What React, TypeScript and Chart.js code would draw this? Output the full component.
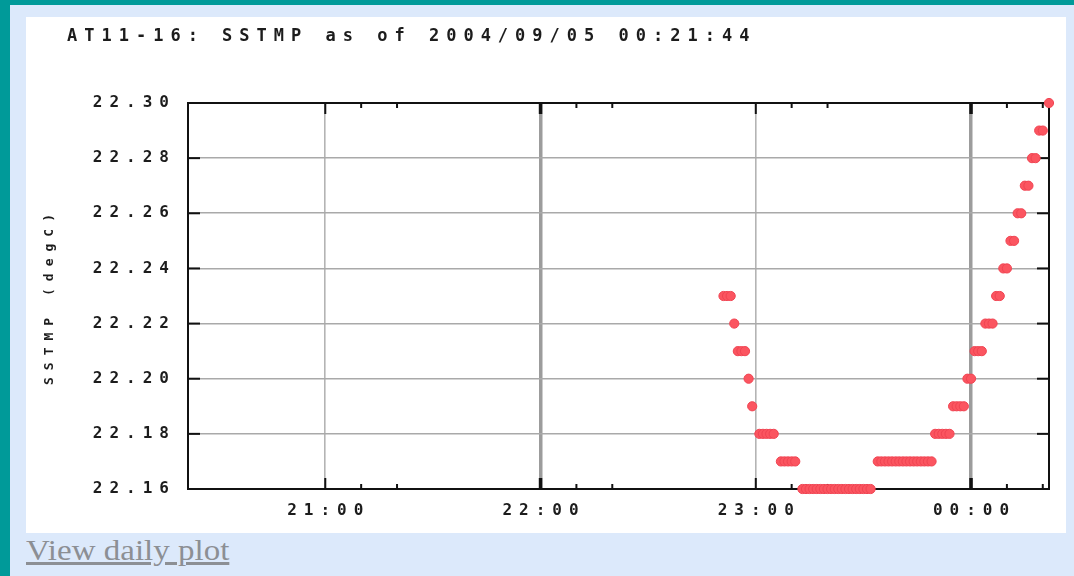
import React, { useEffect, useRef } from 'react';
import { Chart, registerables } from 'chart.js';

Chart.register(...registerables);

const chartTitle = 'AT11-16: SSTMP as of 2004/09/05 00:21:44';
const yAxisTitle = 'SSTMP (degC)';
const linkText = 'View daily plot';

const xStartTime = '20:21:44';
const xEndTime = '00:21:44';
const xTickTimes = ['21:00', '22:00', '23:00', '00:00'];
const xThickTicks = ['22:00', '00:00'];
const xMinorOffsetsMin = [10, 20];
const yTicks = [22.16, 22.18, 22.2, 22.22, 22.24, 22.26, 22.28, 22.3];

const sampleTimes = [
  '22:51', '22:52', '22:53', '22:54', '22:55', '22:56', '22:57', '22:58', '22:59',
  '23:01', '23:02', '23:03', '23:04', '23:05',
  '23:07', '23:08', '23:09', '23:10', '23:11',
  '23:13', '23:14', '23:15', '23:16', '23:17', '23:18', '23:19', '23:20', '23:21', '23:22',
  '23:23', '23:24', '23:25', '23:26', '23:27', '23:28', '23:29', '23:30', '23:31', '23:32',
  '23:34', '23:35', '23:36', '23:37', '23:38', '23:39', '23:40', '23:41', '23:42', '23:43',
  '23:44', '23:45', '23:46', '23:47', '23:48', '23:49',
  '23:50', '23:51', '23:52', '23:53', '23:54',
  '23:55', '23:56', '23:57', '23:58',
  '23:59', '00:00',
  '00:01', '00:02', '00:03',
  '00:04', '00:05', '00:06',
  '00:07', '00:08',
  '00:09', '00:10',
  '00:11', '00:12',
  '00:13', '00:14',
  '00:15', '00:16',
  '00:17', '00:18',
  '00:19', '00:20',
  '00:21:44',
];

const sstmpValues = [
  22.23, 22.23, 22.23, 22.22, 22.21, 22.21, 22.21, 22.2, 22.19,
  22.18, 22.18, 22.18, 22.18, 22.18,
  22.17, 22.17, 22.17, 22.17, 22.17,
  22.16, 22.16, 22.16, 22.16, 22.16, 22.16, 22.16, 22.16, 22.16, 22.16,
  22.16, 22.16, 22.16, 22.16, 22.16, 22.16, 22.16, 22.16, 22.16, 22.16,
  22.17, 22.17, 22.17, 22.17, 22.17, 22.17, 22.17, 22.17, 22.17, 22.17,
  22.17, 22.17, 22.17, 22.17, 22.17, 22.17,
  22.18, 22.18, 22.18, 22.18, 22.18,
  22.19, 22.19, 22.19, 22.19,
  22.2, 22.2,
  22.21, 22.21, 22.21,
  22.22, 22.22, 22.22,
  22.23, 22.23,
  22.24, 22.24,
  22.25, 22.25,
  22.26, 22.26,
  22.27, 22.27,
  22.28, 22.28,
  22.29, 22.29,
  22.3,
];

function toHours(t: string): number {
  const parts = t.split(':').map(Number);
  const h = parts[0];
  const m = parts[1] || 0;
  const s = parts[2] || 0;
  let v = h + m / 60 + s / 3600;
  if (h < 12) v += 24;
  return v;
}

const MONO = '"DejaVu Sans Mono", "Liberation Mono", monospace';
const TEXT = '#1c1c1c';

const spacingPlugin = {
  id: 'letterSpacing',
  beforeDraw(chart: any) {
    chart.ctx.letterSpacing = '7px';
  },
};

const framePlugin = {
  id: 'frameTicks',
  beforeDatasetsDraw(chart: any) {
    const { ctx, chartArea: a, scales } = chart;
    const x = scales.x;
    const y = scales.y;
    ctx.save();
    ctx.strokeStyle = '#111';
    const seg = (x1: number, y1: number, x2: number, y2: number, w: number) => {
      ctx.lineWidth = w;
      ctx.beginPath();
      ctx.moveTo(x1, y1);
      ctx.lineTo(x2, y2);
      ctx.stroke();
    };
    xTickTimes.forEach((t) => {
      const hv = toHours(t);
      const px = x.getPixelForValue(hv);
      const w = xThickTicks.includes(t) ? 3.5 : 2;
      seg(px, a.bottom, px, a.bottom - 11, w);
      seg(px, a.top, px, a.top + 11, w);
      xMinorOffsetsMin.forEach((m) => {
        const pm = x.getPixelForValue(hv + m / 60);
        if (pm < a.right) {
          seg(pm, a.bottom, pm, a.bottom - 5, 2);
          seg(pm, a.top, pm, a.top + 5, 2);
        }
      });
    });
    yTicks.forEach((v) => {
      const py = y.getPixelForValue(v);
      seg(a.left, py, a.left + 12, py, 2);
      seg(a.right - 12, py, a.right, py, 2);
    });
    ctx.lineWidth = 2;
    ctx.strokeRect(a.left, a.top, a.right - a.left, a.bottom - a.top);
    ctx.restore();
  },
};

function SstChart() {
  const ref = useRef<HTMLCanvasElement | null>(null);
  useEffect(() => {
    if (!ref.current) return;
    const points = sampleTimes.map((t, i) => ({ x: toHours(t), y: sstmpValues[i] }));
    const chart = new Chart(ref.current, {
      type: 'scatter',
      data: {
        datasets: [
          {
            label: 'SSTMP',
            data: points,
            pointRadius: 4.6,
            pointHoverRadius: 4.6,
            pointBackgroundColor: '#fb5560',
            pointBorderColor: '#f04452',
            pointBorderWidth: 1,
            showLine: false,
            clip: false,
          } as any,
        ],
      },
      options: {
        responsive: false,
        animation: false,
        events: [],
        layout: { padding: { left: 41, right: 17, top: 0, bottom: 0 } },
        plugins: {
          legend: { display: false },
          tooltip: { enabled: false },
          title: {
            display: true,
            text: chartTitle,
            align: 'start',
            color: TEXT,
            font: { family: MONO, size: 17, weight: 'bold', lineHeight: 1.2 },
            padding: { top: 9, bottom: 56.6 },
          },
        },
        scales: {
          x: {
            type: 'linear',
            min: toHours(xStartTime),
            max: toHours(xEndTime),
            afterBuildTicks: (s: any) => {
              s.ticks = xTickTimes.map((t) => ({ value: toHours(t) }));
            },
            afterFit: (s: any) => {
              s.height = 44;
            },
            ticks: {
              callback: (_v: any, i: number) => xTickTimes[i],
              color: TEXT,
              font: { family: MONO, size: 16, weight: 'bold', lineHeight: 1.2 },
              padding: 12,
              maxRotation: 0,
              autoSkip: false,
              labelOffset: 3.5,
            },
            grid: {
              drawTicks: false,
              color: (c: any) => {
                const lbl = xTickTimes[c.index];
                return xThickTicks.includes(lbl) ? '#9c9c9c' : '#b4b4b4';
              },
              lineWidth: (c: any) => {
                const lbl = xTickTimes[c.index];
                return xThickTicks.includes(lbl) ? 3.5 : 1.6;
              },
            },
            border: { display: false },
          },
          y: {
            type: 'linear',
            min: yTicks[0],
            max: yTicks[yTicks.length - 1],
            afterBuildTicks: (s: any) => {
              s.ticks = yTicks.map((v) => ({ value: v }));
            },
            afterFit: (s: any) => {
              s.width = 121;
            },
            ticks: {
              callback: (v: any) => Number(v).toFixed(2),
              color: TEXT,
              font: { family: MONO, size: 16, weight: 'bold', lineHeight: 1.2 },
              padding: 12,
            },
            grid: { drawTicks: false, color: '#a9a9a9', lineWidth: 1.6 },
            border: { display: false },
            title: {
              display: true,
              text: yAxisTitle,
              color: TEXT,
              font: { family: MONO, size: 13, weight: 'bold', lineHeight: 1.2 },
              padding: { top: -24.8, bottom: 0 },
            },
          },
        },
      } as any,
      plugins: [spacingPlugin, framePlugin],
    });
    return () => chart.destroy();
  }, []);
  return <canvas ref={ref} width={1040} height={516} style={{ display: 'block', width: 1040, height: 516 }} />;
}

export default function App() {
  return (
    <div
      style={{
        position: 'fixed',
        left: 0,
        top: 0,
        width: 1074,
        height: 576,
        background: '#009a99',
        overflow: 'hidden',
      }}
    >
      <div
        style={{
          position: 'absolute',
          left: 10,
          top: 5,
          right: 0,
          bottom: 0,
          background: '#dce9fb',
        }}
      />
      <div
        style={{
          position: 'absolute',
          left: 26,
          top: 17,
          width: 1040,
          height: 516,
          background: '#ffffff',
        }}
      >
        <SstChart />
      </div>
      <a
        href="#"
        style={{
          position: 'absolute',
          left: 26,
          top: 533,
          fontFamily: '"Liberation Serif", "Times New Roman", serif',
          fontSize: 30,
          lineHeight: 'normal',
          color: '#8c8f94',
          textDecoration: 'underline',
          transform: 'scaleX(1.1)',
          transformOrigin: 'left top',
          whiteSpace: 'nowrap',
        }}
      >
        {linkText}
      </a>
    </div>
  );
}
